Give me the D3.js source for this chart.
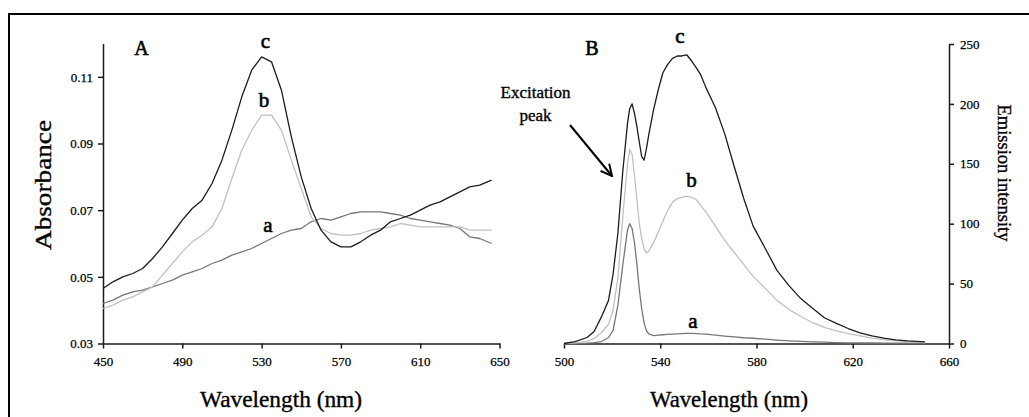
<!DOCTYPE html>
<html>
<head>
<meta charset="utf-8">
<script src="https://cdn.jsdelivr.net/npm/d3@7"></script>
<style>
  html, body { margin: 0; padding: 0; background: #fff; }
  svg { display: block; font-family: "Liberation Serif", "Times New Roman", serif; }
</style>
</head>
<body>
<div id="chart"></div>
<script>
// Panel A: absorbance spectra
const absWavelengths = [450, 455, 460, 465, 470, 475, 480, 485, 490, 495, 500, 505, 510, 515, 520, 525, 530, 535,
    540, 545, 550, 555, 560, 565, 570, 575, 580, 585, 590, 595, 600, 605, 610, 615, 620, 625, 630, 635, 640, 646];
const absA = [0.042, 0.043, 0.0445, 0.0455, 0.046, 0.047, 0.048, 0.049, 0.0505, 0.0515, 0.0525, 0.054, 0.055, 0.0565,
    0.0575, 0.0585, 0.060, 0.0615, 0.063, 0.064, 0.0645, 0.0665, 0.0675, 0.067, 0.068, 0.069, 0.0695, 0.0695, 0.0695,
    0.069, 0.0685, 0.0675, 0.067, 0.0665, 0.066, 0.0655, 0.0645, 0.062, 0.0615, 0.060];
const absB = [0.0405, 0.0415, 0.043, 0.044, 0.0455, 0.047, 0.0505, 0.054, 0.0575, 0.0605, 0.0625, 0.065, 0.0705, 0.0795,
    0.088, 0.094, 0.0985, 0.0985, 0.094, 0.085, 0.0765, 0.068, 0.0645, 0.063, 0.0625, 0.0625, 0.063, 0.064, 0.0645,
    0.065, 0.066, 0.0655, 0.065, 0.065, 0.065, 0.065, 0.065, 0.064, 0.064, 0.064];
const absC = [0.0465, 0.0485, 0.050, 0.051, 0.0525, 0.0555, 0.059, 0.063, 0.067, 0.0705, 0.073, 0.078, 0.085, 0.094,
    0.104, 0.112, 0.116, 0.1145, 0.106, 0.092, 0.080, 0.0705, 0.064, 0.0605, 0.059, 0.059, 0.0605, 0.0625, 0.064,
    0.0665, 0.0675, 0.0685, 0.070, 0.0715, 0.0725, 0.074, 0.0755, 0.077, 0.0775, 0.079];
const absXTicks = [450, 490, 530, 570, 610, 650];
const absYTicks = [0.03, 0.05, 0.07, 0.09, 0.11];

// Panel B: emission spectra
const emWavelengths = [500, 504.6, 509.6, 512.5, 515.5, 518.5, 520.4, 522.4, 524.4, 526.4, 527.3, 528.3, 529.3, 530.3,
    531.3, 532.3, 533.3, 534.2, 535.2, 537.2, 539.2, 541.1, 543.1, 545.1, 547.1, 549.0, 551.0, 553.0, 555.0, 556.9,
    558.9, 562.9, 566.8, 570.7, 574.7, 578.6, 583.6, 588.5, 593.4, 598.4, 603.3, 608.2, 613.2, 618.1, 623.0, 628.0,
    632.9, 637.8, 642.8, 650];
const emA = [0, 0, 0.3, 0.8, 1.5, 5, 11, 32, 65, 95, 100, 96, 84, 66, 45, 29, 17, 11, 8, 6.5, 7, 7.3, 7.6, 7.8, 8,
    8.2, 8.4, 8.5, 8.3, 8, 7.8, 7, 6.2, 5.5, 4.8, 4.4, 3.6, 2.8, 2.2, 1.8, 1.4, 1.1, 0.8, 0.6, 0.5, 0.4, 0.3, 0.3,
    0.3, 0.3];
const emB = [0, 0.5, 1.7, 4, 9, 16, 28, 55, 105, 150, 162, 158, 140, 120, 100, 87, 79, 75.5, 77, 84, 93, 102, 111,
    118, 121, 122, 123, 122, 120, 115, 110, 98, 86, 76, 66, 56, 46, 36, 28.5, 22.5, 17.5, 13.5, 10.5, 8.3, 6.3, 4.4,
    3.3, 2.4, 1.5, 0.8];
const emC = [0, 1.5, 5, 10, 22, 36, 58, 92, 143, 184, 196, 200, 192, 181, 168, 156, 153, 162, 174, 195, 212, 226,
    233, 238, 240, 240, 241, 236, 230, 224, 214, 197, 175, 148, 121, 98, 79.5, 61, 48.5, 37.5, 29.5, 21.5, 16.8,
    12.5, 8.9, 6.3, 4.4, 3, 2.2, 1.4];
const emXTicks = [500, 540, 580, 620, 660];
const emYTicks = [0, 50, 100, 150, 200, 250];

const seriesColors = { a: "#777777", b: "#c0c0c0", c: "#1c1c1c" };

const width = 1029;
const height = 417;

const svg = d3.select("#chart")
    .append("svg")
    .attr("width", width)
    .attr("height", height);

// outer frame (runs off the right and bottom edges)
svg.append("rect")
    .attr("x", 9)
    .attr("y", 14)
    .attr("width", width)
    .attr("height", height)
    .attr("fill", "none")
    .attr("stroke", "#000")
    .attr("stroke-width", 2);

function styleAxis(g) {
    g.attr("font-family", null);
    g.select(".domain").attr("stroke", "#1a1a1a").attr("stroke-width", 1.5);
    g.selectAll(".tick line").attr("stroke", "#1a1a1a").attr("stroke-width", 1.5);
    g.selectAll(".tick text")
        .attr("fill", "#000")
        .attr("stroke", "#000")
        .attr("stroke-width", 0.25)
        .attr("font-size", "13px");
}

function drawSeries(g, xs, ys, color, x, y) {
    const pts = xs.map((d, i) => [d, ys[i]]);
    const line = d3.line().x(d => x(d[0])).y(d => y(d[1]));
    g.append("path")
        .datum(pts)
        .attr("d", line)
        .attr("fill", "none")
        .attr("stroke", color)
        .attr("stroke-width", 1.3)
        .attr("stroke-linejoin", "round");
}

function label(txt, x, y, size, opts = {}) {
    const t = svg.append("text")
        .attr("x", x)
        .attr("y", y)
        .attr("font-size", size + "px")
        .attr("fill", "#000")
        .attr("stroke", "#000")
        .attr("stroke-width", opts.weight || 0.35)
        .attr("text-anchor", opts.anchor || "middle")
        .text(txt);
    if (opts.rotate) t.attr("transform", `rotate(${opts.rotate}, ${x}, ${y})`);
    if (opts.len) t.attr("textLength", opts.len).attr("lengthAdjust", "spacingAndGlyphs");
    return t;
}

// ---------- Panel A ----------
const xA = d3.scaleLinear().domain([450, 650]).range([103, 499.5]);
const yA = d3.scaleLinear().domain([0.03, 0.12]).range([343.5, 43.5]);

const gA = svg.append("g");
gA.append("g")
    .attr("transform", "translate(0,343.5)")
    .call(d3.axisBottom(xA).tickValues(absXTicks).tickSize(5).tickSizeOuter(0).tickPadding(8))
    .call(styleAxis);
gA.append("g")
    .attr("transform", "translate(103,0)")
    .call(d3.axisLeft(yA).tickValues(absYTicks).tickFormat(d3.format(".2f")).tickSize(5).tickSizeOuter(0).tickPadding(5))
    .call(styleAxis);

drawSeries(gA, absWavelengths, absA, seriesColors.a, xA, yA);
drawSeries(gA, absWavelengths, absB, seriesColors.b, xA, yA);
drawSeries(gA, absWavelengths, absC, seriesColors.c, xA, yA);

label("A", 141.5, 55, 20, { weight: 0.6 });
label("c", 265.5, 48, 21, { weight: 0.6 });
label("b", 264, 106.5, 21, { weight: 0.6 });
label("a", 268, 231.5, 21, { weight: 0.6 });
label("Absorbance", 51, 185, 24, { rotate: -90, len: 130 });
label("Wavelength (nm)", 281, 407, 23, { len: 162 });

// ---------- Panel B ----------
const xB = d3.scaleLinear().domain([500, 660]).range([564, 949]);
const yB = d3.scaleLinear().domain([0, 250]).range([343.5, 44]);

const gB = svg.append("g");
gB.append("g")
    .attr("transform", "translate(0,343.5)")
    .call(d3.axisBottom(xB).tickValues(emXTicks).tickSize(5).tickSizeOuter(0).tickPadding(8))
    .call(styleAxis);
gB.append("g")
    .attr("transform", "translate(949,0)")
    .call(d3.axisRight(yB).tickValues(emYTicks).tickSize(5).tickSizeOuter(0).tickPadding(6))
    .call(styleAxis);

drawSeries(gB, emWavelengths, emA, seriesColors.a, xB, yB);
drawSeries(gB, emWavelengths, emB, seriesColors.b, xB, yB);
drawSeries(gB, emWavelengths, emC, seriesColors.c, xB, yB);

label("B", 592, 55, 20, { weight: 0.6 });
label("c", 680, 43, 21, { weight: 0.6 });
label("b", 691.5, 186.5, 21, { weight: 0.6 });
label("a", 693, 328, 21, { weight: 0.6 });
label("Excitation", 535.5, 98, 17);
label("peak", 535.5, 120.5, 17);
label("Emission intensity", 998, 173, 19, { rotate: 90, len: 137 });
label("Wavelength (nm)", 729, 407, 23, { len: 158 });

// arrow pointing at the excitation peak
const defs = svg.append("defs");
defs.append("marker")
    .attr("id", "arrowhead")
    .attr("viewBox", "0 0 10 10")
    .attr("refX", 9)
    .attr("refY", 5)
    .attr("markerWidth", 7)
    .attr("markerHeight", 7)
    .attr("orient", "auto")
    .append("path")
    .attr("d", "M1,1 L9,5 L1,9")
    .attr("fill", "none")
    .attr("stroke", "#000")
    .attr("stroke-width", 1.4);

svg.append("line")
    .attr("x1", 570)
    .attr("y1", 125)
    .attr("x2", 612)
    .attr("y2", 176)
    .attr("stroke", "#000")
    .attr("stroke-width", 2)
    .attr("marker-end", "url(#arrowhead)");
</script>
</body>
</html>
